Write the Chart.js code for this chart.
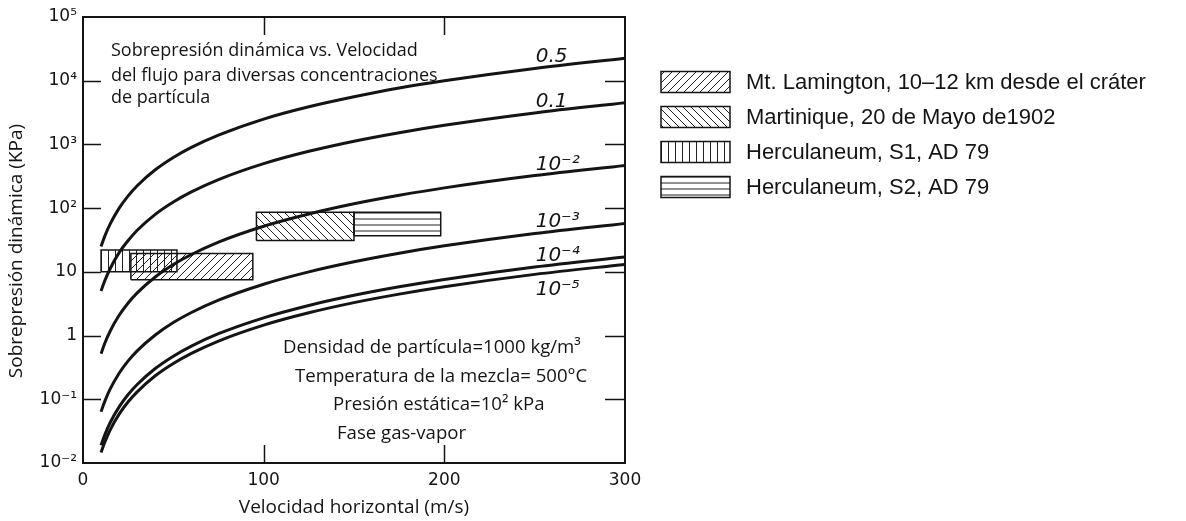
<!DOCTYPE html>
<html>
<head>
<meta charset="utf-8">
<script src="https://cdn.jsdelivr.net/npm/chart.js@4.4.1/dist/chart.umd.min.js"></script>
<style>
html,body{margin:0;padding:0;background:#fff;}
#wrap{width:1186px;height:521px;position:relative;}
canvas{display:block;}
</style>
</head>
<body>
<div id="wrap"><canvas id="c" width="1186" height="521"></canvas></div>
<script>
// ---- data ----
const velocity = [10, 12, 15, 20, 25, 30, 40, 50, 60, 75, 100, 125, 150, 175, 200, 250, 300];
const conc05  = [25, 36, 56, 100, 156, 225, 400, 625, 900, 1400, 2500, 3900, 5600, 7700, 10000, 15600, 22500];
const conc01  = [5, 7.2, 11.2, 20, 31, 45, 80, 125, 180, 281, 500, 780, 1125, 1530, 2000, 3125, 4500];
const conc1e2 = [0.52, 0.75, 1.17, 2.08, 3.25, 4.68, 8.3, 13, 18.7, 29.3, 52, 81, 117, 159, 208, 325, 468];
const conc1e3 = [0.064, 0.092, 0.144, 0.256, 0.40, 0.576, 1.02, 1.6, 2.3, 3.6, 6.4, 10, 14.4, 19.6, 25.6, 40, 57.6];
const conc1e4 = [0.019, 0.0274, 0.0428, 0.076, 0.119, 0.171, 0.304, 0.475, 0.684, 1.07, 1.9, 2.97, 4.28, 5.82, 7.6, 11.9, 17.1];
const conc1e5 = [0.0146, 0.021, 0.0329, 0.0584, 0.0913, 0.131, 0.234, 0.365, 0.526, 0.821, 1.46, 2.28, 3.29, 4.47, 5.84, 9.13, 13.1];
const curveLabels = ['0.5', '0.1', '10⁻²', '10⁻³', '10⁻⁴', '10⁻⁵'];

const boxNames = ['Mt. Lamington, 10–12 km desde el cráter', 'Martinique, 20 de Mayo de1902', 'Herculaneum, S1, AD 79', 'Herculaneum, S2, AD 79'];
const boxVelMin  = [26.5, 96, 10, 150];
const boxVelMax  = [94, 150, 52, 198];
const boxPresMin = [7.5, 31, 10, 37];
const boxPresMax = [19.5, 86, 22, 86];
const boxHatch   = ['diag-up', 'diag-down', 'vertical', 'horizontal'];

const xTicks = [0, 100, 200, 300];
const yTicks = [0.01, 0.1, 1, 10, 100, 1000, 10000, 100000];
const yTickLabels = ['10⁻²', '10⁻¹', '1', '10', '10²', '10³', '10⁴', '10⁵'];

const noteTop = ['Sobrepresión dinámica vs. Velocidad', 'del flujo para diversas concentraciones', 'de partícula'];
const noteBottom = ['Densidad de partícula=1000 kg/m³', 'Temperatura de la mezcla= 500°C', 'Presión estática=10² kPa', 'Fase gas-vapor'];
const xTitle = 'Velocidad horizontal (m/s)';
const yTitle = 'Sobrepresión dinámica (KPa)';

// ---- styling helpers ----
const INK = '#141414';
const MYRIAD = '"Open Sans", "Noto Sans", sans-serif';
const HELV = '"Liberation Sans", Arial, sans-serif';
const WIDE = '"DejaVu Sans", sans-serif';

function hatch(kind) {
  const s = kind === 'vertical' ? 7 : (kind === 'horizontal' ? 6 : 8);
  const c = document.createElement('canvas');
  c.width = s; c.height = s;
  const g = c.getContext('2d');
  g.strokeStyle = '#222';
  g.lineWidth = 1;
  g.beginPath();
  if (kind === 'vertical') { g.moveTo(s / 2, 0); g.lineTo(s / 2, s); }
  else if (kind === 'horizontal') { g.moveTo(0, s / 2); g.lineTo(s, s / 2); }
  else if (kind === 'diag-up') {
    g.moveTo(0, s); g.lineTo(s, 0);
    g.moveTo(-s / 2, s / 2); g.lineTo(s / 2, -s / 2);
    g.moveTo(s / 2, 1.5 * s); g.lineTo(1.5 * s, s / 2);
  } else {
    g.moveTo(0, 0); g.lineTo(s, s);
    g.moveTo(-s / 2, s / 2); g.lineTo(s / 2, 1.5 * s);
    g.moveTo(s / 2, -s / 2); g.lineTo(1.5 * s, s / 2);
  }
  g.stroke();
  return g.createPattern(c, 'repeat');
}

const curveData = [conc05, conc01, conc1e2, conc1e3, conc1e4, conc1e5];
const curveSets = curveData.map((arr, i) => ({
  label: curveLabels[i],
  data: velocity.map((v, j) => ({ x: v, y: arr[j] })),
  borderColor: INK,
  borderWidth: 3,
  pointRadius: 0,
  fill: false,
  cubicInterpolationMode: 'monotone',
  isCurve: true
}));
const boxSets = boxNames.map((name, i) => ({
  label: name,
  data: [
    { x: boxVelMin[i], y: boxPresMin[i] },
    { x: boxVelMax[i], y: boxPresMin[i] },
    { x: boxVelMax[i], y: boxPresMax[i] },
    { x: boxVelMin[i], y: boxPresMax[i] },
    { x: boxVelMin[i], y: boxPresMin[i] }
  ],
  borderColor: INK,
  borderWidth: 1.5,
  backgroundColor: hatch(boxHatch[i]),
  fill: 'shape',
  pointRadius: 0,
  tension: 0,
  isBox: true
}));

const decor = {
  id: 'decor',
  afterDraw(chart) {
    const ctx = chart.ctx;
    const a = chart.chartArea;
    const xs = chart.scales.x, ys = chart.scales.y;
    ctx.save();
    // inward ticks
    ctx.strokeStyle = INK;
    ctx.lineWidth = 1.5;
    ctx.beginPath();
    yTicks.slice(1, -1).forEach(v => {
      const y = Math.round(ys.getPixelForValue(v)) + 0.5;
      ctx.moveTo(a.left, y); ctx.lineTo(a.left + 18, y);
      ctx.moveTo(a.right, y); ctx.lineTo(a.right - 20, y);
    });
    xTicks.slice(1, -1).forEach(v => {
      const x = Math.round(xs.getPixelForValue(v)) + 0.5;
      ctx.moveTo(x, a.top); ctx.lineTo(x, a.top + 18);
      ctx.moveTo(x, a.bottom); ctx.lineTo(x, a.bottom - 18);
    });
    ctx.stroke();
    // frame
    ctx.lineWidth = 2;
    ctx.strokeRect(a.left, a.top, a.right - a.left, a.bottom - a.top);

    // curve labels
    ctx.fillStyle = INK;
    ctx.font = 'italic 20px ' + WIDE;
    ctx.textAlign = 'left';
    ctx.textBaseline = 'alphabetic';
    const idx = velocity.indexOf(250);
    chart.data.datasets.forEach((ds, i) => {
      if (!ds.isCurve) return;
      const p = chart.getDatasetMeta(i).data[idx];
      const dy = i === curveData.length - 1 ? 21 : -6;
      ctx.fillText(ds.label, p.x + 1, p.y + dy);
    });

    // notes
    ctx.font = '18px ' + MYRIAD;
    const topBase = [56, 80.5, 103];
    noteTop.forEach((t, i) => ctx.fillText(t, 111, topBase[i]));
    ctx.font = '18.6px ' + MYRIAD;
    const botX = [283, 295, 333, 337];
    const botBase = [353, 381.5, 410, 438.5];
    noteBottom.forEach((t, i) => ctx.fillText(t, botX[i], botBase[i]));

    // y title
    ctx.save();
    ctx.font = '19px ' + MYRIAD;
    ctx.translate(17, 251);
    ctx.rotate(-Math.PI / 2);
    ctx.textAlign = 'center';
    ctx.textBaseline = 'middle';
    ctx.fillText(yTitle, 0, 0);
    ctx.restore();

    // legend for the hatched boxes
    ctx.font = '22px ' + HELV;
    ctx.textAlign = 'left';
    ctx.textBaseline = 'alphabetic';
    let k = 0;
    chart.data.datasets.forEach(ds => {
      if (!ds.isBox) return;
      const cy = 82 + k * 35;
      ctx.fillStyle = ds.backgroundColor;
      ctx.fillRect(661, cy - 10.5, 69, 21);
      ctx.strokeStyle = INK;
      ctx.lineWidth = 1.5;
      ctx.strokeRect(661, cy - 10.5, 69, 21);
      ctx.fillStyle = INK;
      ctx.fillText(ds.label, 746, cy + 7);
      k++;
    });
    ctx.restore();
  }
};

new Chart(document.getElementById('c'), {
  type: 'line',
  data: { datasets: [...curveSets, ...boxSets] },
  options: {
    responsive: false,
    animation: false,
    events: [],
    layout: { padding: { top: 17, right: 561, left: 0, bottom: 0 } },
    plugins: { legend: { display: false }, tooltip: { enabled: false } },
    scales: {
      x: {
        type: 'linear',
        min: 0, max: 300,
        afterBuildTicks: s => { s.ticks = xTicks.map(v => ({ value: v })); },
        afterFit: s => { s.height = 58; },
        grid: { display: false, drawTicks: false },
        border: { display: false },
        ticks: { padding: 7, color: INK, font: { family: WIDE, size: 17 }, maxRotation: 0, autoSkip: false },
        title: { display: true, text: xTitle, color: INK, font: { family: MYRIAD, size: 19 }, padding: { top: 0, bottom: 2 } }
      },
      y: {
        type: 'logarithmic',
        min: 0.01, max: 100000,
        afterBuildTicks: s => { s.ticks = yTicks.map(v => ({ value: v })); },
        afterFit: s => { s.width = 83; },
        grid: { display: false, drawTicks: false },
        border: { display: false },
        ticks: {
          padding: 6, color: INK, autoSkip: false,
          font: { family: WIDE, size: 17 },
          callback: v => yTickLabels[yTicks.indexOf(v)]
        }
      }
    }
  },
  plugins: [decor]
});
</script>
</body>
</html>
